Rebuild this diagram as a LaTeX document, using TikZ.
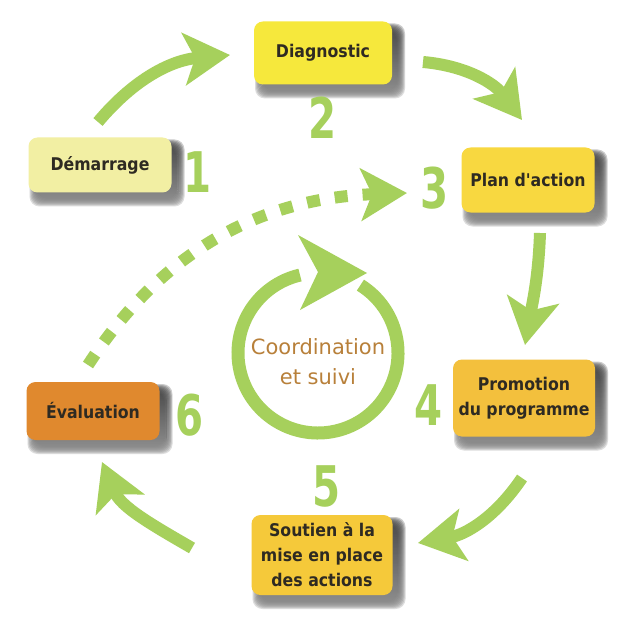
\documentclass[tikz,border=0pt]{standalone}
\usepackage{fontspec}
\setmainfont{DejaVu Sans}
\newfontfamily\boxfont{DejaVu Sans}[FakeStretch=0.9]
\newfontfamily\numfont{DejaVu Sans}[FakeStretch=0.72]
\usetikzlibrary{arrows.meta}

\definecolor{leaf}{HTML}{A6D05C}
\definecolor{ink}{HTML}{2E2A22}
\definecolor{umber}{HTML}{B8803A}
\definecolor{shade}{HTML}{2E2812}
\definecolor{paleyellow}{HTML}{F2EFA3}
\definecolor{brightyellow}{HTML}{F6E83C}
\definecolor{sunyellow}{HTML}{F8D840}
\definecolor{goldA}{HTML}{F3C03D}
\definecolor{goldB}{HTML}{F5C93A}
\definecolor{pumpkin}{HTML}{E0892E}

% one rounded stage box with a soft shadow below and to the right
% #1 name, #2 x, #3 y, #4 width, #5 height, #6 fill, #7 text
\newcommand\stagebox[7]{%
  \foreach \g in {6,5,4,3,2,1,0,-1,-2}{%
    \fill[shade, opacity=0.15, rounded corners=10pt]
      ({#2+7-#4/2-\g},{#3+8-#5/2-\g}) rectangle ({#2+7+#4/2+\g},{#3+8+#5/2+\g});
  }%
  \node[stage, fill=#6, minimum width=#4pt, minimum height=#5pt] (#1) at (#2,#3) {#7};
}

\begin{document}
\begin{tikzpicture}[x=1pt, y=1pt, yscale=-1,
  stage/.style={rounded corners=9pt, inner sep=0pt, align=center, text=ink,
    font={\boxfont\bfseries\fontsize{17.5}{25}\selectfont}},
  num/.style={text=leaf, inner sep=0pt, font={\numfont\bfseries\fontsize{56}{56}\selectfont}},
  hubtext/.style={text=umber, align=center, inner sep=0pt, font={\fontsize{21}{30}\selectfont}},
  flow/.style={draw=leaf, line width=12pt, -{Stealth[length=46pt, width=52pt, inset=11pt]}},
  dashflow/.style={flow, dash pattern=on 13pt off 15pt}
]
\fill[white] (0,0) rectangle (619,628);
\useasboundingbox (0,0) rectangle (619,628);

% stages of the cycle
\stagebox{dem}{100}{165}{143}{55}{paleyellow}{Démarrage}
\stagebox{diag}{323}{53}{138}{63}{brightyellow}{Diagnostic}
\stagebox{plan}{528}{180}{133}{65}{sunyellow}{Plan d'action}
\stagebox{promo}{524}{398}{142}{77}{goldA}{Promotion\\du programme}
\stagebox{sout}{322}{555}{141}{80}{goldB}{Soutien à la\\mise en place\\des actions}
\stagebox{eval}{93}{411}{133}{58}{pumpkin}{Évaluation}

% step numbers
\node[num] (n1) at (198,172) {1};
\node[num] (n2) at (323,118) {2};
\node[num] (n3) at (435,188) {3};
\node[num] (n4) at (429,405) {4};
\node[num] (n5) at (327,486) {5};
\node[num] (n6) at (190,415) {6};

% arrow end points
\coordinate (s12) at (98,122);  \coordinate (t12) at (230,55);
\coordinate (s23) at (423,62);  \coordinate (t23) at (522,120);
\coordinate (s34) at (540,233); \coordinate (t34) at (525,345);
\coordinate (s45) at (522,478); \coordinate (t45) at (418,543);
\coordinate (s56) at (192,548); \coordinate (t56) at (102,462);
\coordinate (s63) at (88,365);  \coordinate (t63) at (407,193);

\draw[flow] (s12) to[out=-50, in=175] (t12);
\draw[flow] (s23) to[out=5, in=-127] (t23);
\draw[flow] (s34) to[out=92, in=-80] (t34);
\draw[flow] (s45) to[out=124, in=-10] (t45);
\draw[flow] (s56) to[out=210, in=67] (t56);
\draw[dashflow] (s63) to[out=-57, in=178] (t63);

% central loop: coordination and follow-up
\coordinate (hubc) at (318,353);
\draw[leaf, line width=13pt] (hubc) ++(-58:80) arc[start angle=-58, end angle=257, radius=80];
\fill[leaf] (367,273) -- (298,235) -- (318,272) -- (300,310) -- cycle;
\node[hubtext] (hub) at (318,362) {Coordination\\et suivi};
\end{tikzpicture}
\end{document}
